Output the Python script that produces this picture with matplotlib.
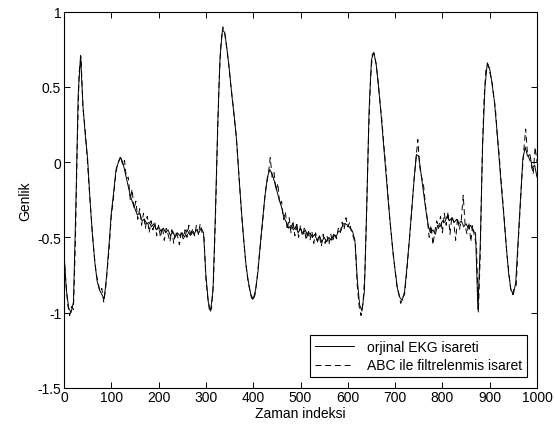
import numpy as np
import matplotlib
matplotlib.use("Agg")
import matplotlib.pyplot as plt

# orjinal EKG isareti, every 5 samples
orig_step = 5
orig_vals = [
    -0.60, -0.85, -0.97, -1.00, -0.93, -0.30, 0.45, 0.71, 0.38, 0.18,
    0.02, -0.25, -0.48, -0.66, -0.79, -0.85, -0.88, -0.91, -0.76, -0.56,
    -0.34, -0.20, -0.05, 0.00, 0.03, -0.01, -0.08, -0.15, -0.22, -0.27,
    -0.31, -0.35, -0.34, -0.39, -0.38, -0.41, -0.40, -0.43, -0.41, -0.45,
    -0.43, -0.46, -0.44, -0.47, -0.45, -0.49, -0.46, -0.50, -0.47, -0.49,
    -0.47, -0.50, -0.45, -0.48, -0.46, -0.48, -0.45, -0.47, -0.44, -0.47,
    -0.75, -0.93, -0.99, -0.85, -0.35, 0.25, 0.70, 0.88, 0.86, 0.74,
    0.60, 0.44, 0.30, 0.14, -0.10, -0.32, -0.52, -0.69, -0.80, -0.88,
    -0.91, -0.85, -0.73, -0.55, -0.38, -0.22, -0.10, -0.05, -0.08, -0.13,
    -0.19, -0.25, -0.30, -0.37, -0.40, -0.44, -0.42, -0.45, -0.43, -0.47,
    -0.44, -0.48, -0.45, -0.49, -0.47, -0.50, -0.48, -0.52, -0.49, -0.53,
    -0.50, -0.53, -0.50, -0.52, -0.48, -0.50, -0.46, -0.46, -0.41, -0.41,
    -0.42, -0.44, -0.46, -0.52, -0.78, -0.95, -0.99, -0.86, -0.30, 0.35,
    0.68, 0.73, 0.65, 0.50, 0.33, 0.14, -0.05, -0.24, -0.42, -0.58,
    -0.72, -0.84, -0.90, -0.92, -0.86, -0.70, -0.52, -0.32, -0.12, 0.05,
    0.04, -0.08, -0.20, -0.32, -0.42, -0.47, -0.45, -0.48, -0.42, -0.43,
    -0.39, -0.40, -0.36, -0.39, -0.37, -0.40, -0.38, -0.41, -0.39, -0.43,
    -0.41, -0.44, -0.42, -0.46, -0.47, -0.98, -0.55, 0.12, 0.50, 0.66,
    0.62, 0.52, 0.40, 0.22, 0.02, -0.18, -0.36, -0.56, -0.74, -0.85,
    -0.88, -0.80, -0.52, -0.25, 0.02, 0.10, 0.04, 0.05, -0.04, -0.02,
    -0.10,
]

# ABC ile filtrelenmis isaret, every 4 samples
filt_step = 4
filt_vals = [
    -0.62, -0.80, -0.95, -1.02, -0.96, -0.98, -0.55, 0.10, 0.60, 0.70,
    0.36, 0.24, 0.08, -0.12, -0.30, -0.47, -0.62, -0.74, -0.80, -0.86,
    -0.84, -0.93, -0.84, -0.70, -0.55, -0.36, -0.26, -0.12, -0.03, 0.01,
    0.04, -0.02, 0.01, -0.11, -0.10, -0.25, -0.18, -0.31, -0.26, -0.38,
    -0.31, -0.42, -0.34, -0.44, -0.36, -0.47, -0.39, -0.45, -0.40, -0.49,
    -0.42, -0.50, -0.43, -0.52, -0.44, -0.48, -0.53, -0.45, -0.54, -0.46,
    -0.49, -0.55, -0.46, -0.51, -0.45, -0.50, -0.42, -0.50, -0.44, -0.49,
    -0.42, -0.48, -0.41, -0.47, -0.50, -0.78, -0.90, -1.00, -0.97, -0.80,
    -0.40, 0.10, 0.55, 0.80, 0.90, 0.85, 0.76, 0.66, 0.53, 0.42,
    0.30, 0.18, 0.00, -0.18, -0.37, -0.52, -0.66, -0.77, -0.84, -0.90,
    -0.92, -0.88, -0.78, -0.65, -0.52, -0.40, -0.25, -0.15, -0.08, 0.03,
    -0.10, -0.07, -0.19, -0.14, -0.28, -0.26, -0.38, -0.33, -0.45, -0.37,
    -0.47, -0.39, -0.49, -0.40, -0.50, -0.42, -0.49, -0.44, -0.52, -0.45,
    -0.52, -0.46, -0.54, -0.47, -0.53, -0.49, -0.56, -0.48, -0.54, -0.49,
    -0.55, -0.48, -0.53, -0.47, -0.51, -0.44, -0.47, -0.40, -0.45, -0.37,
    -0.43, -0.40, -0.47, -0.50, -0.55, -0.82, -0.96, -1.02, -0.94, -0.75,
    -0.30, 0.20, 0.55, 0.72, 0.72, 0.65, 0.54, 0.40, 0.28, 0.12,
    -0.02, -0.18, -0.35, -0.48, -0.62, -0.72, -0.83, -0.88, -0.94, -0.90,
    -0.88, -0.75, -0.60, -0.45, -0.28, -0.12, 0.02, 0.15, -0.03, -0.10,
    -0.15, -0.28, -0.38, -0.50, -0.42, -0.55, -0.46, -0.39, -0.44, -0.36,
    -0.47, -0.34, -0.42, -0.33, -0.48, -0.36, -0.40, -0.52, -0.37, -0.45,
    -0.38, -0.22, -0.42, -0.48, -0.40, -0.53, -0.42, -0.50, -0.55, -1.00,
    -0.62, 0.02, 0.42, 0.62, 0.65, 0.60, 0.55, 0.45, 0.36, 0.18,
    0.05, -0.12, -0.27, -0.44, -0.60, -0.72, -0.84, -0.88, -0.83, -0.82,
    -0.55, -0.33, -0.10, 0.08, 0.22, 0.05, 0.02, -0.02, -0.08, 0.10,
    0.00,
]

orig_x = np.arange(len(orig_vals)) * orig_step
filt_x = np.arange(len(filt_vals)) * filt_step

xticks = [0, 100, 200, 300, 400, 500, 600, 700, 800, 900, 1000]
yticks = [-1.5, -1, -0.5, 0, 0.5, 1]
ytick_labels = ['-1.5', '-1', '-0.5', '0', '0.5', '1']

plt.rcParams['font.family'] = ['Liberation Sans', 'DejaVu Sans']
plt.rcParams['font.size'] = 10

fig = plt.figure(figsize=(5.55, 4.35), dpi=100, facecolor='white')
ax = fig.add_axes([0.1153, 0.1064, 0.8523, 0.8644])

ax.plot(orig_x, orig_vals, color='black', linewidth=0.7, linestyle='-',
        label='orjinal EKG isareti')
ax.plot(filt_x, filt_vals, color='black', linewidth=0.7, linestyle=(0, (6, 4)),
        label='ABC ile filtrelenmis isaret')

ax.set_xlim(0, 1000)
ax.set_ylim(-1.5, 1)
ax.set_xticks(xticks)
ax.set_yticks(yticks)
ax.set_yticklabels(ytick_labels)
ax.tick_params(direction='in', top=True, right=True, length=4, width=0.7, pad=2)
for s in ax.spines.values():
    s.set_linewidth(0.8)

ax.set_xlabel('Zaman indeksi', labelpad=1)
ax.set_ylabel('Genlik', labelpad=4)

leg = ax.legend(loc='lower right', fancybox=False, edgecolor='black', framealpha=1,
                handlelength=2.8, borderaxespad=0.75, borderpad=0.35,
                labelspacing=0.35, handletextpad=0.9)
leg.get_frame().set_linewidth(0.8)

fig.savefig('out.png', dpi=100)
